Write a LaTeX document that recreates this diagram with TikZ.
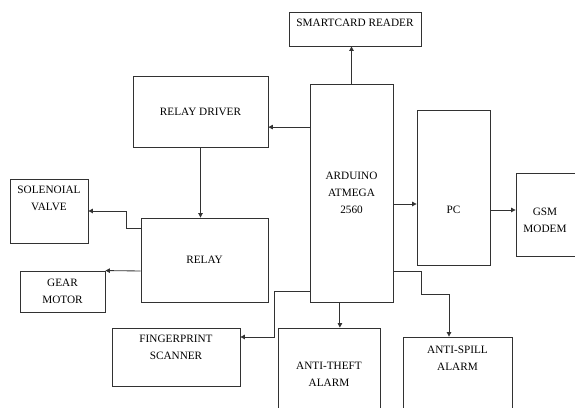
\documentclass[tikz,border=0pt]{standalone}
\usepackage{fontspec}
\setmainfont{Liberation Serif}
\usetikzlibrary{arrows.meta,positioning,calc}
\definecolor{line}{RGB}{50,50,50}

\begin{document}
\begin{tikzpicture}[
    box/.style={draw=line, line width=0.6pt, minimum width=#1},
    txt/.style={font=\fontsize{8}{12}\selectfont, align=center, inner sep=0pt},
    arr/.style={-{Triangle[length=3.2pt,width=3.2pt]}, line width=0.6pt, line},
    node distance=0.3cm]

    \clip (0,0) rectangle (14.375,10.2);

    % controller and reader
    \node[box=2.075cm, minimum height=5.45cm, txt] (ard) at (8.7875,5.375) {ARDUINO\\ATMEGA\\2560};
    \node[box=3.3cm, minimum height=0.85cm] (smart) at (8.875,9.475) {};
    \node[txt] (smartt) at (8.875,9.625) {SMARTCARD READER};

    % relay side
    \node[box=3.375cm, minimum height=1.775cm, txt] (drv) at (5.0125,7.4125) {RELAY DRIVER};
    \node[box=3.175cm, minimum height=2.1cm, txt] (relay) at (5.1125,3.7) {RELAY};
    \node[box=1.95cm, minimum height=1.6cm] (sol) at (1.225,4.925) {};
    \node[txt] (solt) at (1.225,5.2375) {SOLENOIAL\\VALVE};
    \node[box=2.125cm, minimum height=1.025cm, txt] (gear) at (1.5625,2.9125) {GEAR\\MOTOR};

    % pc and modem
    \node[box=1.825cm, minimum height=3.875cm] (pc) at (11.3375,5.5125) {};
    \node[txt] (pct) at (11.3375,4.95) {PC};
    \node[box=1.6cm, minimum height=2.075cm] (gsm) at (13.7,4.8375) {};
    \node[txt] (gsmt) at (13.625,4.6875) {GSM\\MODEM};

    % bottom row
    \node[box=3.2cm, minimum height=1.45cm] (fp) at (4.4,1.275) {};
    \node[txt] (fpt) at (4.4,1.5125) {FINGERPRINT\\SCANNER};
    \node[box=2.55cm, minimum height=2.3cm, txt] (theft) at (8.225,0.85) {ANTI-THEFT\\ALARM};
    \node[box=2.725cm, minimum height=2.075cm] (spill) at (11.4375,0.7375) {};
    \node[txt] (spillt) at (11.4375,1.25) {ANTI-SPILL\\ALARM};

    % connections
    \draw[arr] (ard.north) -- (ard.north |- smart.south);
    \coordinate (drvin) at ([yshift=-0.39cm]drv.east);
    \draw[arr] (ard.west |- drvin) -- (drvin);
    \draw[arr] (drv.south) -- (drv.south |- relay.north);
    \draw[arr] ([yshift=0.8cm]relay.west) -- ++(-0.35,0) |- (sol.east);
    \draw[arr] ([yshift=-0.275cm]relay.west) -- (gear.north east);
    \draw[arr] ([yshift=-2.45cm]ard.west) -- ++(-0.875,0) |- ([yshift=0.5cm]fp.east);
    \coordinate (thin) at ([xshift=-0.29cm]ard.south);
    \draw[arr] (thin) -- (thin |- theft.north);
    \draw[arr] ([yshift=-1.95cm]ard.east) -- ++(0.7,0) -- ++(0,-0.575) -| ([xshift=-0.2125cm]spill.north);
    \coordinate (pcin) at ([yshift=-0.275cm]ard.east);
    \draw[arr] (pcin) -- (pcin -| pc.west);
    \coordinate (gsmin) at ([yshift=-0.5625cm]pc.east);
    \draw[arr] (gsmin) -- (gsmin -| gsm.west);
\end{tikzpicture}
\end{document}
